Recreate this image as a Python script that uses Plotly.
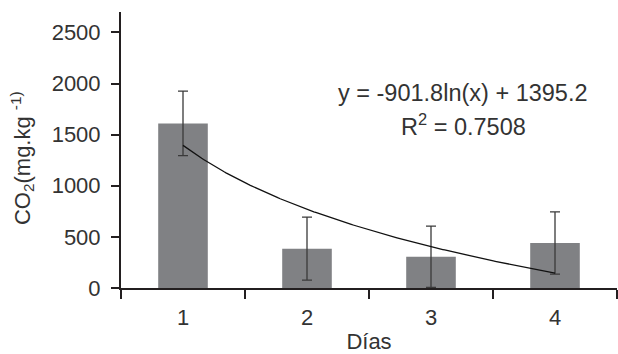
import numpy as np
import plotly.graph_objects as go

# Daily CO2 measurements (mean and error)
days = [1, 2, 3, 4]
day_labels = ["1", "2", "3", "4"]
co2 = [1610, 385, 305, 440]
co2_err = [315, 308, 300, 305]

# Logarithmic trend fitted to the means
trend_slope = -901.8
trend_intercept = 1395.2
trend_r2 = 0.7508

y_ticks = [0, 500, 1000, 1500, 2000, 2500]

ink = "#231f20"
text_ink = "#333333"
font_family = "Liberation Sans, Arial, sans-serif"
fs = 22

trend_x = np.linspace(min(days), max(days), 200)
trend_y = trend_slope * np.log(trend_x) + trend_intercept

fig = go.Figure()
fig.add_trace(go.Bar(
    x=days, y=co2, width=0.4,
    marker=dict(color="#808184", line=dict(width=0)),
    error_y=dict(type="data", array=co2_err, visible=True,
                 color="#3a3a3a", thickness=1.3, width=5),
    showlegend=False,
))
fig.add_trace(go.Scatter(
    x=trend_x, y=trend_y, mode="lines",
    line=dict(color="#111111", width=1.3),
    showlegend=False, hoverinfo="skip",
))

fig.update_layout(
    width=618, height=354,
    margin=dict(l=121, r=1, t=12, b=66),
    paper_bgcolor="white", plot_bgcolor="white",
    font=dict(family=font_family, size=fs, color=text_ink),
    xaxis=dict(
        range=[0.5, 4.5], tickvals=days, ticktext=day_labels,
        ticks="", showgrid=False, zeroline=False,
        showline=True, linecolor=ink, linewidth=2,
        minor=dict(tick0=0.5, dtick=1, ticks="outside", ticklen=9,
                   tickwidth=2, tickcolor=ink, showgrid=False),
        ticklabelstandoff=9,
        title=dict(text="Días", standoff=6, font=dict(size=fs)),
        tickfont=dict(size=fs),
    ),
    yaxis=dict(
        range=[0, 2700], tickvals=y_ticks, ticks="outside", ticklen=8,
        tickwidth=2, tickcolor=ink, showgrid=False, zeroline=False,
        showline=True, linecolor=ink, linewidth=2,
        tickfont=dict(size=fs), ticklabelstandoff=6,
    ),
)

# Y-axis title, placed as a rotated label left of the tick labels
fig.add_annotation(
    xref="paper", yref="paper", x=-0.2, y=0.47,
    text="CO<sub>2</sub>(mg.kg <sup>-1)</sup>", textangle=-90,
    showarrow=False, font=dict(size=fs, color=text_ink),
    xanchor="center", yanchor="middle",
)

fig.add_annotation(
    xref="paper", yref="paper", x=0.69, y=0.708,
    text=f"y = {trend_slope}ln(x) + {trend_intercept}",
    showarrow=False, font=dict(size=23.5, color=text_ink),
    xanchor="center", yanchor="middle",
)
fig.add_annotation(
    xref="paper", yref="paper", x=0.69, y=0.592,
    text=f"R<sup>2</sup> = {trend_r2}",
    showarrow=False, font=dict(size=23.5, color=text_ink),
    xanchor="center", yanchor="middle",
)

fig.write_html("out.html")
